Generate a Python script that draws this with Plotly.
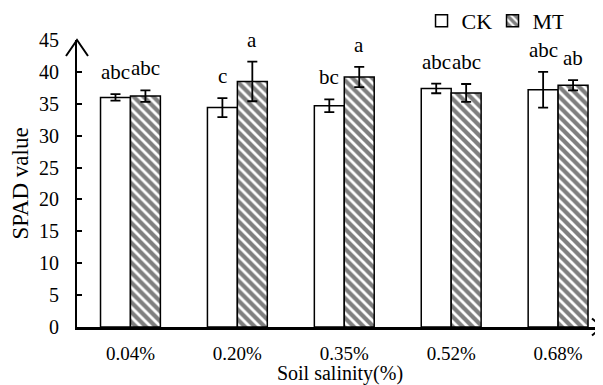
import plotly.graph_objects as go

categories = ["0.04%", "0.20%", "0.35%", "0.52%", "0.68%"]
ck = [36.0, 34.4, 34.7, 37.4, 37.2]
ck_err = [0.5, 1.5, 1.0, 0.75, 2.8]
mt = [36.2, 38.5, 39.2, 36.7, 37.9]
mt_err = [0.9, 3.1, 1.6, 1.4, 0.8]
ck_letters = ["abc", "c", "bc", "abc", "abc"]
mt_letters = ["abc", "a", "a", "abc", "ab"]
y_ticks = [0, 5, 10, 15, 20, 25, 30, 35, 40, 45]

FONT = "Liberation Serif"
# page has an 8px body margin, so the figure is a little smaller than the window
W, H = 595, 377
ML, MR, MT_, MB = 69, 0, 32, 58
PW, PH = W - ML - MR, H - MT_ - MB
BARGAP = 0.44
half = (1 - BARGAP) / 4

fig = go.Figure()
fig.add_trace(go.Bar(
    name="CK", x=categories, y=ck,
    marker=dict(color="white", line=dict(color="black", width=1.5)),
    error_y=dict(type="data", array=ck_err, color="black", thickness=1.8, width=5),
))
fig.add_trace(go.Bar(
    name="MT", x=categories, y=mt,
    marker=dict(color="white", line=dict(color="black", width=1.5),
                pattern=dict(shape="\\", fgcolor="black", bgcolor="white",
                             size=7, solidity=0.6)),
    error_y=dict(type="data", array=mt_err, color="black", thickness=1.8, width=5),
))

annotations = []
for i in range(len(categories)):
    annotations.append(dict(x=i - half, y=ck[i] + ck_err[i], text=ck_letters[i],
                            showarrow=False, yanchor="bottom", yshift=8,
                            font=dict(family=FONT, size=21, color="black")))
    annotations.append(dict(x=i + half, y=mt[i] + mt_err[i], text=mt_letters[i],
                            showarrow=False, yanchor="bottom", yshift=8,
                            font=dict(family=FONT, size=21, color="black")))

shapes = [
    dict(type="path", xref="paper", yref="paper",
         path=f"M {1 - 11/PW},{8.5/PH} L {1 - 1/PW},0 L {1 - 11/PW},{-8.5/PH}",
         line=dict(color="black", width=2)),
    dict(type="path", xref="paper", yref="paper",
         path=f"M {-11/PW},{1 - 16/PH} L 0,1 L {11/PW},{1 - 16/PH}",
         line=dict(color="black", width=2)),
]

fig.update_layout(
    width=W, height=H,
    margin=dict(l=ML, r=MR, t=MT_, b=MB, autoexpand=False),
    paper_bgcolor="white", plot_bgcolor="white",
    barmode="group", bargap=BARGAP, bargroupgap=0,
    font=dict(family=FONT, size=20, color="black"),
    showlegend=True,
    legend=dict(orientation="h", x=0.655, y=1.066, xanchor="left", yanchor="middle",
                font=dict(family=FONT, size=22), entrywidth=26,
                bgcolor="rgba(0,0,0,0)", traceorder="normal"),
    annotations=annotations,
    shapes=shapes,
)
fig.update_xaxes(
    range=[-0.5, 4.42], showline=True, linecolor="black", linewidth=2.5,
    ticks="", showgrid=False, zeroline=False, automargin=False,
    tickfont=dict(family=FONT, size=19), ticklabelstandoff=7,
    title=dict(text="Soil salinity(%)", font=dict(family=FONT, size=20), standoff=0),
)
fig.update_yaxes(
    range=[0, 45], tickvals=y_ticks, showline=True, linecolor="black", linewidth=2,
    ticks="inside", ticklen=5, tickwidth=1.5, tickcolor="black",
    showgrid=False, zeroline=False, automargin=False,
    tickfont=dict(family=FONT, size=20), ticklabelstandoff=12,
    title=dict(text="SPAD value", font=dict(family=FONT, size=23), standoff=8),
)

fig.write_html("out.html")
